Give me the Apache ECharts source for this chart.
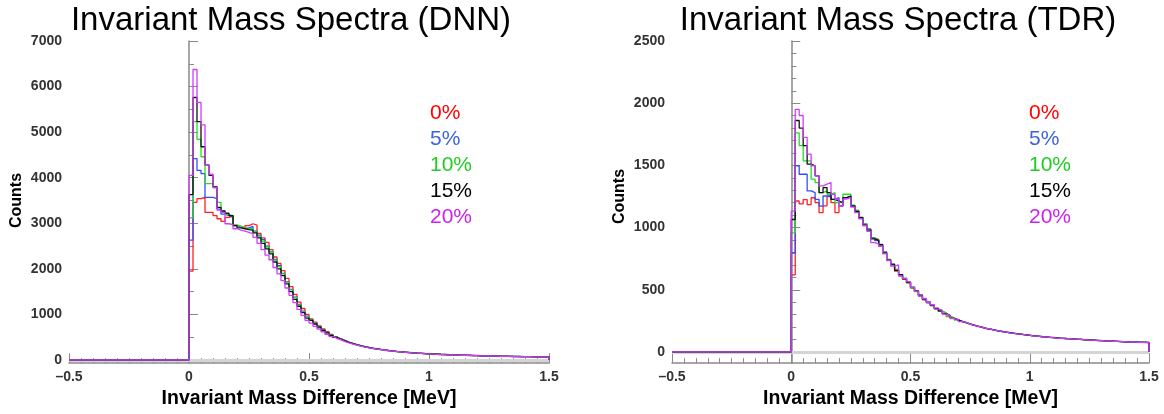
<!DOCTYPE html>
<html>
<head>
<meta charset="utf-8">
<script src="https://cdn.jsdelivr.net/npm/echarts@6/dist/echarts.min.js"></script>
<style>
html, body { margin: 0; padding: 0; background: #fff; }
#main { width: 1164px; height: 414px; }
</style>
</head>
<body>
<div id="main"></div>
<script>
// histogram binning: 90 bins of 1/60 MeV starting at 0, axis from -0.5 to 1.5
var xLo = -0.5, xHi = 1.5, binLo = 0, binW = 1 / 60;
var titles = ["Invariant Mass Spectra (DNN)", "Invariant Mass Spectra (TDR)"];
var names = ["0%", "5%", "10%", "15%", "20%"];
var lineColors = ["#ff2020", "#2f4dff", "#22dd22", "#111111", "#d13cff"];
var textColors = ["#ff0000", "#3d64d8", "#22cc22", "#000000", "#cc22ee"];

// DNN counts per bin
var dnn0 = [1950,3460,3540,3570,3240,3240,3170,3100,3040,3130,3170,
  2960,2930,2900,2950,2990,2960,2780,2680,2580,2420,2260,2120,1960,1790,1610,1440,1270,1130,1000,
  900,830,750,680,620,560,515,470,430,395,
  365,340,318,296,276,262,246,232,221,210,
  200,190,182,175,167,160,154,149,143,139,
  135,131,126,123,119,116,113,110,108,105,
  102,100,97,95,93,90,88,86,84,82,
  81,79,77,76,74,73,71,70,69,68];
var dnn5 = [2630,4420,4160,4090,3570,3570,3540,3310,3200,3170,3130,
  2950,2920,2890,2900,2930,2830,2740,2640,2500,2380,2210,2070,1900,1720,1550,1380,1220,1070,960,
  885,805,735,665,605,548,502,462,424,392,
  362,336,314,293,277,259,245,231,219,208,
  198,189,181,173,166,159,153,147,142,137,
  132,128,124,121,117,114,111,108,105,102,
  100,97,95,93,91,89,87,85,83,81,
  80,78,77,75,74,72,71,69,68,67];
var dnn10 = [3120,5230,4840,4460,3870,3870,3800,3460,3270,3190,3170,
  2960,2930,2900,2880,2880,2810,2720,2610,2480,2370,2190,2050,1890,1710,1540,1370,1210,1060,950,
  878,798,728,662,598,546,498,458,421,388,
  361,334,311,291,274,257,244,229,217,206,
  196,187,179,171,164,157,151,146,140,135,
  130,126,122,118,115,112,109,106,103,100,
  98,96,93,91,89,87,85,83,81,80,
  78,77,75,74,72,71,69,68,67,65];
var dnn15 = [3630,5760,5230,4680,4280,4050,3800,3350,3270,3220,3170,
  2950,2900,2880,2860,2850,2790,2680,2560,2440,2330,2150,2000,1850,1670,1500,1330,1180,1040,920,
  870,790,722,652,595,540,495,455,418,386,
  357,332,310,290,272,255,241,228,216,205,
  195,186,178,170,163,156,150,145,139,134,
  129,126,121,117,114,111,108,105,102,100,
  97,95,93,91,88,86,84,82,81,79,
  77,76,74,73,72,70,69,67,66,65];
var dnn20 = [4050,6375,5650,5160,4280,4080,3780,3290,3240,2990,2970,
  2880,2850,2830,2800,2770,2690,2560,2420,2300,2200,2030,1890,1740,1580,1420,1260,1110,980,870,
  810,740,680,620,565,515,475,440,405,375,
  348,325,303,284,268,252,238,226,214,203,
  193,185,177,169,162,155,149,144,138,133,
  128,125,120,116,113,110,107,104,101,99,
  96,94,92,90,88,86,84,82,80,78,
  77,75,74,72,71,70,68,67,66,64];

// TDR counts per bin
var tdr0 = [620,1214,1190,1225,1185,1240,1200,1120,1175,1250,1200,1120,1175,1240,1250,1170,1130,1080,1025,985,915,
  905,850,790,745,700,650,615,585,555,
  515,492,452,420,402,372,352,328,312,285,
  270,260,244,238,224,214,209,197,192,183,
  176,172,163,161,154,151,145,143,137,135,
  129,128,123,120,118,117,112,110,108,107,
  104,102,101,99,96,95,93,92,89,90,
  86,85,84,83,81,80,79,80,77,78];
var tdr5 = [796,1497,1429,1429,1295,1281,1227,1173,1254,1254,1227,1241,1173,1241,1254,1173,1133,1079,1030,990,920,
  895,865,805,738,702,662,622,592,562,
  522,488,458,428,398,377,348,332,308,292,
  273,257,248,235,227,215,208,200,190,185,
  178,170,166,159,156,149,147,141,139,133,
  131,126,125,120,119,115,114,110,110,106,
  106,102,102,98,98,94,94,91,91,88,
  88,85,85,82,83,80,81,78,79,76];
var tdr10 = [957,1761,1659,1537,1537,1389,1362,1281,1295,1268,1281,1200,1200,1268,1268,1180,1140,1085,1030,985,915,
  900,858,802,742,698,664,618,594,558,
  524,486,456,424,404,373,352,328,312,288,
  274,256,247,234,228,214,206,201,189,185,
  176,172,164,161,153,151,145,143,137,134,
  129,128,122,122,117,116,112,112,107,108,
  103,104,100,99,96,96,92,92,89,89,
  86,86,83,83,81,81,79,79,77,77];
var tdr15 = [1065,1861,1800,1659,1510,1497,1416,1281,1322,1281,1227,1214,1200,1241,1254,1175,1130,1080,1020,980,910,
  898,862,796,738,706,656,622,588,560,
  518,492,454,426,398,376,348,330,308,292,
  270,258,245,237,225,217,206,200,190,184,
  177,170,166,159,155,150,146,141,138,133,
  130,127,123,121,117,116,113,110,109,106,
  105,102,101,98,97,95,93,91,90,88,
  87,85,84,82,82,80,80,78,78,76];
var tdr20 = [1133,1950,1901,1726,1591,1497,1416,1335,1349,1362,1268,1227,1173,1230,1240,1165,1120,1070,1015,970,880,
  870,850,790,735,690,700,610,590,565,
  520,490,450,430,400,380,345,335,305,292,
  268,262,244,238,222,216,206,200,189,186,
  176,171,164,160,154,151,144,143,137,135,
  128,127,122,121,117,115,110,112,106,107,
  103,103,99,100,96,96,92,93,88,90,
  85,88,83,84,80,82,78,80,76,78];

var dnnSets = [dnn0, dnn5, dnn10, dnn15, dnn20];
var tdrSets = [tdr0, tdr5, tdr10, tdr15, tdr20];

var font = "Liberation Sans, Arial, sans-serif";
var axisGray = "#8a8a8a";

// step outline like ROOT "hist": flat at 0 from xLo, then one step per bin
function hist(vals) {
  var pts = [[xLo, 0]];
  for (var i = 0; i < vals.length; i++) {
    pts.push([binLo + i * binW, vals[i]]);
  }
  pts.push([binLo + vals.length * binW, 0]);
  return pts;
}

var myChart = echarts.init(document.getElementById("main"));

function frameX(gi) {
  return {
    gridIndex: gi, type: "value", min: xLo, max: xHi, interval: 0.5,
    axisLine: { lineStyle: { color: axisGray, width: 1.5 } },
    axisTick: { inside: true, length: 10, lineStyle: { color: axisGray } },
    minorTick: { show: true, splitNumber: 10, length: 5, lineStyle: { color: axisGray } },
    splitLine: { show: false },
    axisLabel: {
      margin: 7, color: "#333", fontFamily: font, fontWeight: "bold", fontSize: 14,
      formatter: function (v) { return v < 0 ? "\u2013" + Math.abs(v) : String(v); }
    },
    name: "Invariant Mass Difference [MeV]",
    nameLocation: "middle", nameGap: 25,
    nameTextStyle: { color: "#000", fontFamily: font, fontWeight: "bold", fontSize: 19.5 }
  };
}
function dataX(gi) {
  return { gridIndex: gi, type: "value", min: xLo, max: xHi, show: false };
}
function frameY(gi) {
  return {
    gridIndex: gi, type: "value", min: 0, max: 1,
    axisLine: { show: true, lineStyle: { color: axisGray, width: 1.5 } },
    axisTick: { show: false }, axisLabel: { show: false }, splitLine: { show: false }
  };
}
function dataY(gi, max, step, minorSplit) {
  return {
    gridIndex: gi, type: "value", min: 0, max: max, interval: step,
    axisLine: { show: false },
    axisTick: { show: true, inside: true, length: 9, lineStyle: { color: axisGray } },
    minorTick: { show: true, splitNumber: minorSplit, length: 5, lineStyle: { color: axisGray } },
    splitLine: { show: false },
    axisLabel: {
      margin: 7, color: "#333", fontFamily: font, fontWeight: "bold", fontSize: 14,
      formatter: function (v) { return String(v); }
    },
    name: "Counts", nameLocation: "middle", nameGap: 44,
    nameTextStyle: { color: "#000", fontFamily: font, fontWeight: "bold", fontSize: 16 }
  };
}

var series = [];
function addPanel(sets, gi) {
  sets.forEach(function (vals, k) {
    var s = {
      name: names[k], type: "line", xAxisIndex: gi, yAxisIndex: gi,
      data: hist(vals), step: "end", showSymbol: false, symbol: "none",
      silent: true, clip: true, z: 3 + k,
      lineStyle: { color: lineColors[k], width: 1.3 },
      itemStyle: { color: lineColors[k] }
    };
    if (k === 0) {
      s.markLine = {
        silent: true, symbol: "none", label: { show: false }, z: 1,
        lineStyle: { color: "#d4d4d4", width: 3, type: "solid" },
        data: [{ yAxis: 0 }]
      };
    }
    series.push(s);
  });
}
addPanel(dnnSets, 1);
addPanel(tdrSets, 3);

var graphics = [];
[[291, titles[0]], [898, titles[1]]].forEach(function (t) {
  graphics.push({
    type: "text", x: t[0], y: 21,
    style: { text: t[1], fill: "#000", font: "33px " + font, align: "center", verticalAlign: "middle" }
  });
});
[430, 1029].forEach(function (lx) {
  names.forEach(function (n, k) {
    graphics.push({
      type: "text", x: lx, y: 113 + 26 * k,
      style: { text: n, fill: textColors[k], font: "21px " + font, align: "left", verticalAlign: "middle" }
    });
  });
});

var option = {
  animation: false,
  backgroundColor: "#fff",
  grid: [
    { left: 69, width: 480, top: 41, height: 324 },
    { left: 69, width: 480, top: 41, height: 319 },
    { left: 672, width: 477, top: 41, height: 324 },
    { left: 672, width: 477, top: 41, height: 311 }
  ],
  xAxis: [frameX(0), dataX(1), frameX(2), dataX(3)],
  yAxis: [frameY(0), dataY(1, 7000, 1000, 2), frameY(2), dataY(3, 2500, 500, 5)],
  series: series,
  graphic: graphics
};
myChart.setOption(option);
window.addEventListener("resize", function () {
  myChart.resize();
});
</script>
</body>
</html>
